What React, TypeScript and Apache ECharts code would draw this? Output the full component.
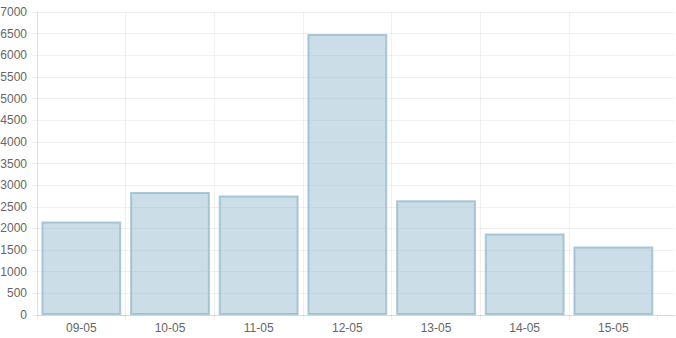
import React, { useEffect, useRef } from "react";
import * as echarts from "echarts";

const categories = ["09-05", "10-05", "11-05", "12-05", "13-05", "14-05", "15-05"];
const values = [2160, 2840, 2760, 6490, 2650, 1880, 1580];
const yMin = 0;
const yMax = 7000;
const yStep = 500;

export default function App() {
  const ref = useRef<HTMLDivElement>(null);
  useEffect(() => {
    document.body.style.margin = "0";
    const chart = echarts.init(ref.current!, null, { renderer: "svg" });
    const grid = "rgba(0,0,0,0.06)";
    const axisC = "rgba(0,0,0,0.1)";
    chart.setOption({
      animation: false,
      grid: [
        { left: 37, right: 18.3, top: 12, bottom: 23, containLabel: false, outerBoundsMode: "none" },
        { left: 37, right: 1, top: 12, bottom: 23, containLabel: false, outerBoundsMode: "none" },
      ],
      xAxis: [
        {
          type: "category",
          gridIndex: 0,
          data: categories,
          boundaryGap: true,
          axisLine: { show: false },
          axisTick: { show: true, length: 5, lineStyle: { color: grid } },
          splitLine: { show: true, showMaxLine: false, lineStyle: { color: grid } },
          axisLabel: { color: "#666", fontSize: 12, fontFamily: "Liberation Sans, Arial", margin: 7 },
        },
        {
          type: "value",
          gridIndex: 1,
          min: 0,
          max: 1,
          axisLine: { show: true, lineStyle: { color: axisC } },
          axisTick: { show: false },
          axisLabel: { show: false },
          splitLine: { show: false },
        },
      ],
      yAxis: [
        {
          type: "value",
          gridIndex: 0,
          min: yMin,
          max: yMax,
          interval: yStep,
          axisLine: { show: true, lineStyle: { color: grid } },
          axisTick: { show: false },
          splitLine: { show: false },
          axisLabel: {
            color: "#666",
            fontSize: 12,
            fontFamily: "Liberation Sans, Arial",
            margin: 10,
            formatter: (v: number) => String(v),
          },
        },
        {
          type: "value",
          gridIndex: 1,
          min: yMin,
          max: yMax,
          interval: yStep,
          axisLine: { show: false },
          axisTick: { show: true, length: 5, lineStyle: { color: grid } },
          splitLine: { show: true, lineStyle: { color: grid } },
          axisLabel: { show: false },
        },
      ],
      series: [
        {
          type: "bar",
          xAxisIndex: 0,
          yAxisIndex: 0,
          data: values,
          barCategoryGap: "10%",
          itemStyle: {
            color: "rgba(151,187,205,0.5)",
            borderColor: "rgba(151,187,205,0.8)",
            borderWidth: 2,
          },
        },
      ],
    });
    return () => chart.dispose();
  }, []);
  return <div ref={ref} style={{ width: 676, height: 338 }} />;
}
